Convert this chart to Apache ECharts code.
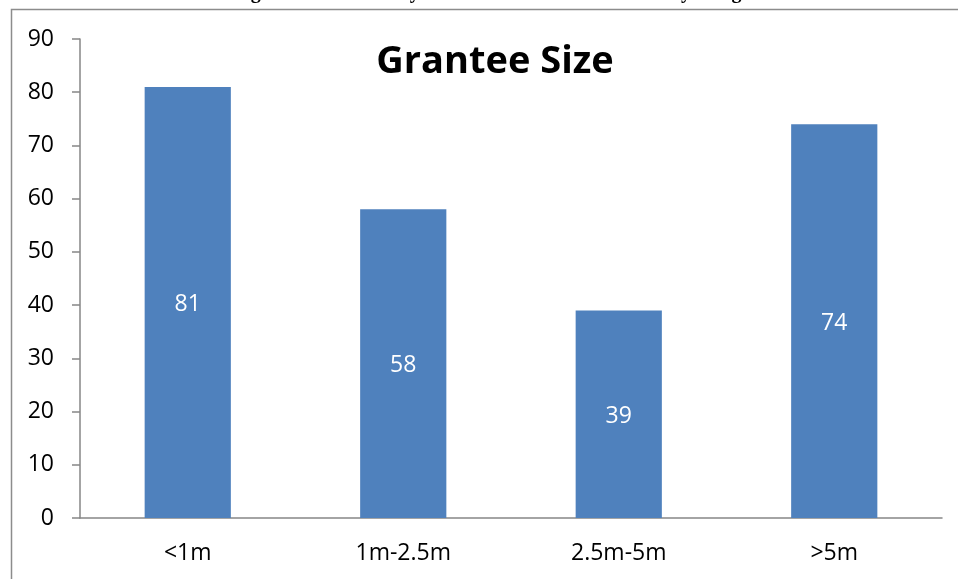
<!DOCTYPE html>
<html>
<head>
<meta charset="utf-8">
<script src="https://cdn.jsdelivr.net/npm/echarts@6/dist/echarts.min.js"></script>
<style>
  html, body { margin: 0; padding: 0; background: #fff; }
  #chart { width: 958px; height: 579px; }
</style>
</head>
<body>
<div id="chart"></div>
<script>
// categories and values
var categories = ['<1m', '1m-2.5m', '2.5m-5m', '>5m']
var grantees = [81, 58, 39, 74]
var yTicks = { min: 0, max: 90, interval: 10 }

var chart = echarts.init(document.getElementById('chart'))
var font = '"Open Sans", sans-serif'

chart.setOption({
  animation: false,
  backgroundColor: '#fff',
  title: {
    text: 'Grantee Size',
    left: 490,
    top: 38,
    textAlign: 'center',
    textStyle: {
      fontFamily: font,
      fontWeight: 'bold',
      fontSize: 38,
      color: '#000'
    }
  },
  graphic: [
    {
      // frame around the chart, cut by the page edges
      type: 'rect',
      shape: { x: 11.5, y: 9.5, width: 1000, height: 1000 },
      style: { fill: 'none', stroke: '#8c8c8c', lineWidth: 1.5 },
      silent: true
    },
    {
      // caption above the frame, mostly off the page
      type: 'text',
      x: 495,
      y: 3,
      style: {
        text: 'Figure 3: Grantees by Size of Annual Revenue and by Budget',
        font: 'bold 20px "Liberation Serif", serif',
        fill: '#000',
        align: 'center',
        verticalAlign: 'bottom'
      },
      silent: true
    }
  ],
  grid: {
    left: 80,
    right: 16,
    top: 39,
    bottom: 61
  },
  xAxis: {
    type: 'category',
    data: categories,
    axisLine: { lineStyle: { color: '#868686', width: 1.5 } },
    axisTick: { length: 8, lineStyle: { color: '#868686', width: 1.5 } },
    axisLabel: {
      margin: 24,
      fontFamily: font,
      fontSize: 23,
      color: '#000'
    }
  },
  yAxis: {
    type: 'value',
    min: yTicks.min,
    max: yTicks.max,
    interval: yTicks.interval,
    splitLine: { show: false },
    axisLine: { show: true, lineStyle: { color: '#868686', width: 1.5 } },
    axisTick: { show: true, length: 8, lineStyle: { color: '#868686', width: 1.5 } },
    axisLabel: {
      margin: 26,
      fontFamily: font,
      fontSize: 23,
      color: '#000'
    }
  },
  series: [
    {
      type: 'bar',
      data: grantees,
      barWidth: '40%',
      itemStyle: { color: '#4f81bd' },
      label: {
        show: true,
        position: 'inside',
        offset: [0, 2],
        color: '#fff',
        fontFamily: font,
        fontSize: 23
      }
    }
  ]
})
</script>
</body>
</html>
